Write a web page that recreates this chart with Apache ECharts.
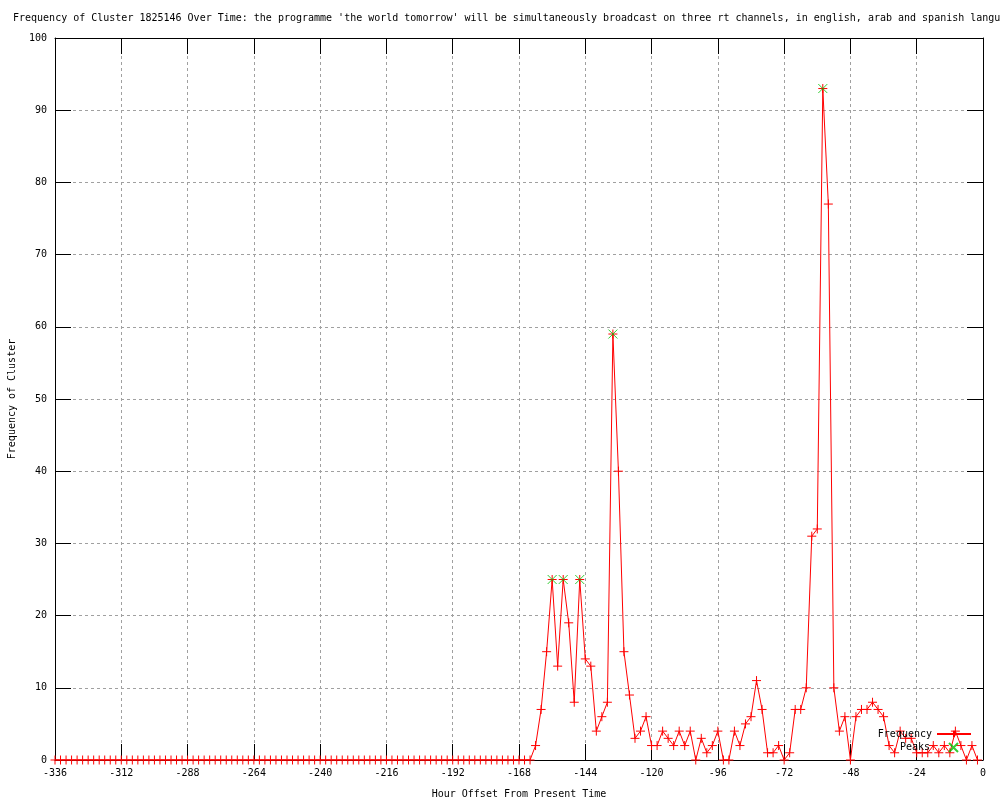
<!DOCTYPE html>
<html>
<head>
<meta charset="utf-8">
<script src="https://cdn.jsdelivr.net/npm/echarts@6/dist/echarts.min.js"></script>
<style>html,body{margin:0;padding:0;background:#fff;}#c{width:1000px;height:800px;}</style>
</head>
<body>
<div id="c"></div>
<script>
const titleText = "Frequency of Cluster 1825146 Over Time: the programme 'the world tomorrow' will be simultaneously broadcast on three rt channels, in english, arab and spanish languages";
const xAxisTitle = "Hour Offset From Present Time";
const yAxisTitle = "Frequency of Cluster";

const hours = [
-336,-334,-332,-330,-328,-326,-324,-322,-320,-318,-316,-314,-312,-310,-308,-306,-304,-302,-300,-298,
-296,-294,-292,-290,-288,-286,-284,-282,-280,-278,-276,-274,-272,-270,-268,-266,-264,-262,-260,-258,
-256,-254,-252,-250,-248,-246,-244,-242,-240,-238,-236,-234,-232,-230,-228,-226,-224,-222,-220,-218,
-216,-214,-212,-210,-208,-206,-204,-202,-200,-198,-196,-194,-192,-190,-188,-186,-184,-182,-180,-178,
-176,-174,-172,-170,-168,-166,-164,-162,-160,-158,-156,-154,-152,-150,-148,-146,-144,-142,-140,-138,
-136,-134,-132,-130,-128,-126,-124,-122,-120,-118,-116,-114,-112,-110,-108,-106,-104,-102,-100,-98,
-96,-94,-92,-90,-88,-86,-84,-82,-80,-78,-76,-74,-72,-70,-68,-66,-64,-62,-60,-58,
-56,-54,-52,-50,-48,-46,-44,-42,-40,-38,-36,-34,-32,-30,-28,-26,-24,-22,-20,-18,
-16,-14,-12,-10,-8,-6,-4,-2
];
const frequency = [
0,0,0,0,0,0,0,0,0,0,0,0,0,0,0,0,0,0,0,0,
0,0,0,0,0,0,0,0,0,0,0,0,0,0,0,0,0,0,0,0,
0,0,0,0,0,0,0,0,0,0,0,0,0,0,0,0,0,0,0,0,
0,0,0,0,0,0,0,0,0,0,0,0,0,0,0,0,0,0,0,0,
0,0,0,0,0,0,0,2,7,15,25,13,25,19,8,25,14,13,4,6,
8,59,40,15,9,3,4,6,2,2,4,3,2,4,2,4,0,3,1,2,
4,0,0,4,2,5,6,11,7,1,1,2,0,1,7,7,10,31,32,93,
77,10,4,6,0,6,7,7,8,7,6,2,1,4,3,3,1,1,1,2,
1,2,1,4,2,0,2,0
];
const peakHours = [-156, -152, -146, -134, -58];
const peakValues = [25, 25, 25, 59, 93];

const FONT = "'DejaVu Sans Mono', 'Liberation Mono', monospace";
const PLUS = 'path://M0,4L8,4M4,0L4,8';
const CROSS = 'path://M0,0L8,8M8,0L0,8';

const freqData = hours.map((h, i) => [h, frequency[i]]);
const peakData = peakHours.map((h, i) => [h, peakValues[i]]);

const chart = echarts.init(document.getElementById('c'), null, {renderer: 'canvas'});
const gridLine = {show: true, lineStyle: {color: '#a0a0a0', type: [3, 3], width: 1}};
const axisLine = {show: true, onZero: false, lineStyle: {color: '#000', width: 1}};
const tick = {show: true, inside: true, length: 16, lineStyle: {color: '#000', width: 1}};

chart.setOption({
  animation: false,
  backgroundColor: '#fff',
  title: {
    text: titleText, left: 8, top: 8,
    textStyle: {fontFamily: FONT, fontSize: 10, fontWeight: 'normal', color: '#000'}
  },
  legend: [
    {
      data: ['Frequency'], right: 23, top: 724, align: 'right',
      itemWidth: 34, itemHeight: 8, itemGap: 4,
      textStyle: {fontFamily: FONT, fontSize: 10, color: '#000'}
    },
    {
      data: [{name: 'Peaks', icon: CROSS}], right: 36, top: 737, align: 'right',
      itemWidth: 9, itemHeight: 9,
      textStyle: {fontFamily: FONT, fontSize: 10, color: '#000', padding: [0, 14, 0, 0]}
    }
  ],
  grid: {left: 55, right: 17, top: 38, bottom: 40, containLabel: false, outerBoundsMode: 'none'},
  xAxis: [
    {
      type: 'value', min: -336, max: 0, interval: 24, position: 'bottom',
      name: xAxisTitle, nameLocation: 'middle', nameGap: 29,
      nameTextStyle: {fontFamily: FONT, fontSize: 10, color: '#000'},
      axisLine: axisLine, axisTick: tick, splitLine: gridLine,
      axisLabel: {fontFamily: FONT, fontSize: 10, color: '#000', margin: 8}
    },
    {
      type: 'value', min: -336, max: 0, interval: 24, position: 'top',
      axisLine: axisLine, axisTick: tick, splitLine: {show: false}, axisLabel: {show: false}
    }
  ],
  yAxis: [
    {
      type: 'value', min: 0, max: 100, interval: 10, position: 'left',
      name: yAxisTitle, nameLocation: 'middle', nameGap: 38, nameRotate: 90,
      nameTextStyle: {fontFamily: FONT, fontSize: 10, color: '#000'},
      axisLine: axisLine, axisTick: tick, splitLine: gridLine,
      axisLabel: {fontFamily: FONT, fontSize: 10, color: '#000', margin: 8}
    },
    {
      type: 'value', min: 0, max: 100, interval: 10, position: 'right',
      axisLine: axisLine, axisTick: tick, splitLine: {show: false}, axisLabel: {show: false}
    }
  ],
  series: [
    {
      name: 'Frequency', type: 'line', data: freqData, xAxisIndex: 0, yAxisIndex: 0,
      symbol: PLUS, symbolSize: 9, showAllSymbol: true,
      lineStyle: {color: '#ff0000', width: 1},
      itemStyle: {color: '#ff0000', borderColor: '#ff0000', borderWidth: 1},
      emphasis: {disabled: true}, z: 3
    },
    {
      name: 'Peaks', type: 'scatter', data: peakData, xAxisIndex: 0, yAxisIndex: 0,
      symbol: CROSS, symbolSize: 9,
      itemStyle: {color: '#00c000', borderColor: '#00c000', borderWidth: 1},
      emphasis: {disabled: true}, z: 4
    }
  ]
});
</script>
</body>
</html>
